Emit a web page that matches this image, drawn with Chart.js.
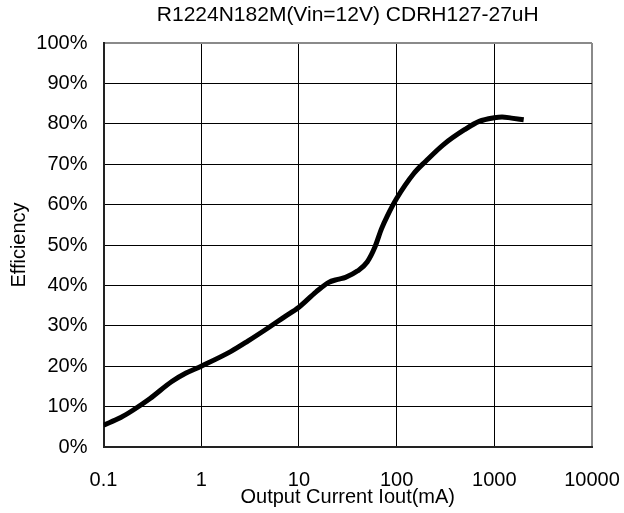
<!DOCTYPE html>
<html>
<head>
<meta charset="utf-8">
<script src="https://cdn.jsdelivr.net/npm/chart.js@4/dist/chart.umd.min.js"></script>
<style>
  html, body { margin: 0; padding: 0; background: #fff; }
  #wrap { width: 624px; height: 513px; position: relative; }
</style>
</head>
<body>
<div id="wrap"><canvas id="c"></canvas></div>
<script>
// Efficiency vs. output current, R1224N182M at Vin = 12 V with CDRH127-27uH
const chartTitle = 'R1224N182M(Vin=12V) CDRH127-27uH';
const currentMA = [0.1, 0.15, 0.2, 0.3, 0.5, 0.7, 1, 2, 3, 5, 7, 10, 15, 20, 25, 30, 40, 50, 60, 70, 80, 100, 150, 200, 300, 500, 700, 1000, 1200, 1500, 2000];
const efficiencyPct = [5.4, 7.3, 9.1, 12.0, 16.2, 18.3, 20.0, 23.6, 26.2, 29.7, 32.1, 34.6, 38.4, 40.7, 41.5, 42.0, 43.6, 45.8, 49.5, 54.0, 57.1, 61.5, 67.7, 70.8, 74.8, 78.6, 80.6, 81.5, 81.7, 81.4, 81.0];
const xTicks = [0.1, 1, 10, 100, 1000, 10000];
const yTicks = [0, 10, 20, 30, 40, 50, 60, 70, 80, 90, 100];

const FONT = 'Liberation Sans, Arial, sans-serif';
Chart.defaults.color = '#000';
Chart.defaults.font.family = FONT;

// Title centred over the plot area
const plotTitle = {
  id: 'plotTitle',
  afterDraw(chart) {
    const { ctx, chartArea } = chart;
    ctx.save();
    ctx.font = '21px ' + FONT;
    ctx.fillStyle = '#000';
    ctx.textAlign = 'center';
    ctx.textBaseline = 'middle';
    ctx.fillText(chartTitle, (chartArea.left + chartArea.right) / 2, 15);
    ctx.restore();
  }
};

const EDGE = '#8a8a8a';

new Chart(document.getElementById('c'), {
  type: 'line',
  data: {
    datasets: [{
      data: currentMA.map((x, i) => ({ x, y: efficiencyPct[i] })),
      borderColor: '#000',
      borderWidth: 5,
      pointRadius: 0,
      cubicInterpolationMode: 'monotone',
      fill: false
    }]
  },
  options: {
    responsive: true,
    maintainAspectRatio: false,
    animation: false,
    layout: { padding: { top: 43, right: 32, bottom: 0, left: 0 } },
    plugins: { legend: { display: false }, tooltip: { enabled: false }, title: { display: false } },
    scales: {
      x: {
        type: 'logarithmic',
        min: 0.1,
        max: 10000,
        afterBuildTicks: s => { s.ticks = xTicks.map(v => ({ value: v })); },
        afterFit: s => { s.height = 66; s.paddingLeft = 0; s.paddingRight = 0; },
        ticks: {
          autoSkip: false,
          maxRotation: 0,
          padding: 21,
          font: { size: 20 },
          callback: v => String(v)
        },
        grid: {
          drawTicks: false,
          color: c => (c.tick && c.tick.value === 10000 ? EDGE : '#000'),
          lineWidth: c => (c.tick && c.tick.value === 10000 ? 2 : 1)
        },
        border: { color: '#222', width: 2 },
        title: {
          display: true,
          text: 'Output Current Iout(mA)',
          font: { size: 20 },
          padding: { top: 0, bottom: 4 }
        }
      },
      y: {
        min: 0,
        max: 100,
        afterBuildTicks: s => { s.ticks = yTicks.map(v => ({ value: v })); },
        afterFit: s => { s.width = 103.5; s.paddingTop = 0; s.paddingBottom = 0; },
        ticks: {
          padding: 16,
          font: { size: 20 },
          callback: v => v + '%'
        },
        grid: {
          drawTicks: false,
          color: c => (c.tick && c.tick.value === 100 ? EDGE : '#000'),
          lineWidth: c => (c.tick && c.tick.value === 100 ? 2 : 1)
        },
        border: { color: '#222', width: 2 },
        title: {
          display: true,
          text: 'Efficiency',
          font: { size: 20 },
          padding: { top: 7, bottom: 0 }
        }
      }
    }
  },
  plugins: [plotTitle]
});
</script>
</body>
</html>
